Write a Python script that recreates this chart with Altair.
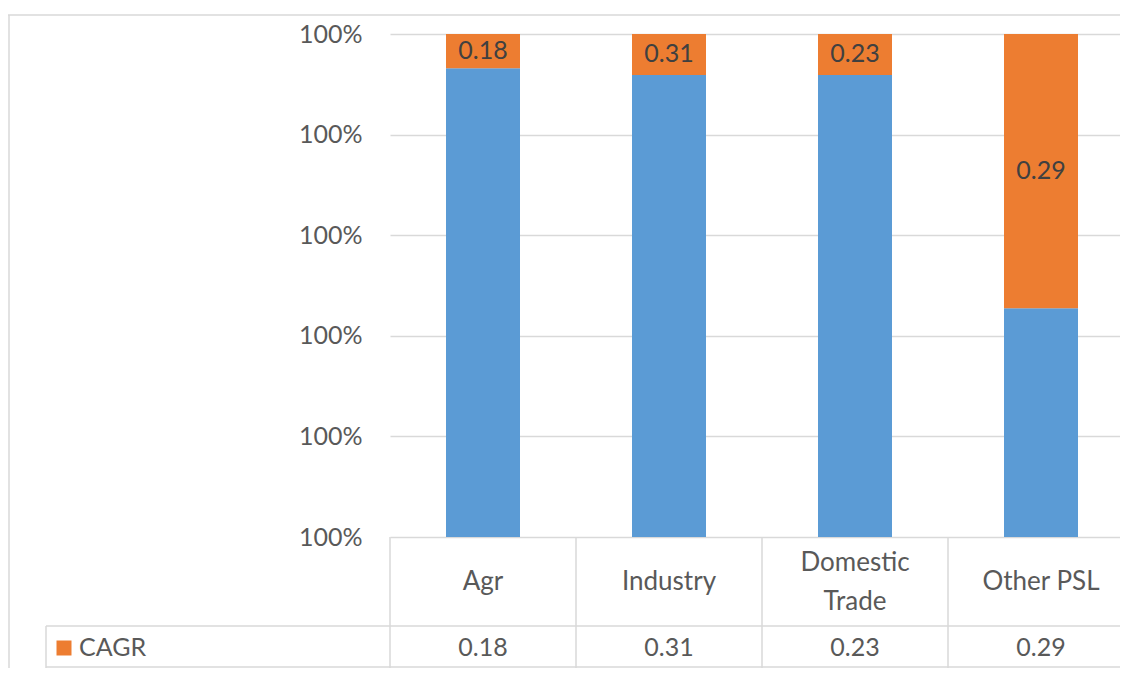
import altair as alt
import pandas as pd

categories = ["Agr", "Industry", "Domestic Trade", "Other PSL"]
cat_labels = ["Agr", "Industry", "Domestic\nTrade", "Other PSL"]
cagr = [0.18, 0.31, 0.23, 0.29]
# stacked shares (axis spans 99.9% .. 100%)
blue_share = [0.999932, 0.9999185, 0.9999185, 0.999455]
orange_share = [0.000068, 0.0000815, 0.0000815, 0.000545]
y_ticks = [0.999, 0.9992, 0.9994, 0.9996, 0.9998, 1.0]

BLUE = "#5B9BD5"
ORANGE = "#ED7D31"
GRID = "#D9D9D9"
TXT = "#595959"
FONT = "Lato"
FS = 25

rows = []
for c, b, o in zip(categories, blue_share, orange_share):
    rows.append({"cat": c, "series": "Share", "value": b, "ord": 0})
    rows.append({"cat": c, "series": "CAGR", "value": o, "ord": 1})
bars_df = pd.DataFrame(rows)

lab_df = pd.DataFrame({
    "cat": categories,
    "mid": [b + o / 2 for b, o in zip(blue_share, orange_share)],
    "cagr": cagr,
    "label": cat_labels,
    "lines": [lab.count("\n") + 1 for lab in cat_labels],
})

xscale = alt.Scale(domain=categories, range=[0, 744], paddingInner=0, paddingOuter=0)
yscale = alt.Scale(domain=[0.999, 1.0], range=[503, 0], zero=False, nice=False, clamp=True)

bars = alt.Chart(bars_df).mark_bar(width=alt.RelativeBandSize(74 / 186)).encode(
    x=alt.X("cat:N", scale=xscale, axis=None, sort=categories),
    y=alt.Y("value:Q", stack="zero", scale=yscale,
            axis=alt.Axis(values=y_ticks, format=".0%", title=None, grid=True,
                          gridColor=GRID, gridWidth=1.5, domain=False, ticks=False,
                          labelFont=FONT, labelFontSize=FS, labelColor=TXT,
                          labelPadding=28)),
    color=alt.Color("series:N", scale=alt.Scale(domain=["Share", "CAGR"], range=[BLUE, ORANGE]),
                    legend=None),
    order=alt.Order("ord:Q"),
)

bar_labels = alt.Chart(lab_df).mark_text(font=FONT, fontSize=FS, color="#404040").encode(
    x=alt.X("cat:N", scale=xscale, sort=categories),
    y=alt.Y("mid:Q", scale=yscale),
    text=alt.Text("cagr:Q", format=".2f"),
)

cat_text_1 = alt.Chart(lab_df).transform_filter("datum.lines == 1").mark_text(
    font=FONT, fontSize=26, color=TXT).encode(
    x=alt.X("cat:N", scale=xscale, sort=categories),
    y=alt.value(548),
    text="label:N",
)
cat_text_2 = alt.Chart(lab_df).transform_filter("datum.lines == 2").mark_text(
    font=FONT, fontSize=26, color=TXT, lineBreak="\n", lineHeight=39).encode(
    x=alt.X("cat:N", scale=xscale, sort=categories),
    y=alt.value(529),
    text="label:N",
)

val_text = alt.Chart(lab_df).mark_text(font=FONT, fontSize=FS, color=TXT).encode(
    x=alt.X("cat:N", scale=xscale, sort=categories),
    y=alt.value(614),
    text=alt.Text("cagr:Q", format=".2f"),
)

vlines = alt.Chart(lab_df).mark_rule(color=GRID, strokeWidth=1.5).encode(
    x=alt.X("cat:N", scale=xscale, sort=categories, bandPosition=0),
    y=alt.value(503),
    y2=alt.value(634),
)

one = lab_df.head(1)
hline_mid = alt.Chart(one).mark_rule(color=GRID, strokeWidth=1.5).encode(
    x=alt.value(-344), x2=alt.value(744), y=alt.value(592))
hline_bot = alt.Chart(one).mark_rule(color=GRID, strokeWidth=1.5).encode(
    x=alt.value(-344), x2=alt.value(744), y=alt.value(633))
vline_leg = alt.Chart(one).mark_rule(color=GRID, strokeWidth=1.5).encode(
    x=alt.value(-344), y=alt.value(592), y2=alt.value(634))
border_top = alt.Chart(one).mark_rule(color=GRID, strokeWidth=1.5).encode(
    x=alt.value(-382), x2=alt.value(744), y=alt.value(-19))
border_left = alt.Chart(one).mark_rule(color=GRID, strokeWidth=1.5).encode(
    x=alt.value(-381), y=alt.value(-19), y2=alt.value(640))

legend_sq = alt.Chart(pd.DataFrame({"series": ["CAGR"]})).mark_square(
    size=225, color=ORANGE, opacity=1, filled=True).encode(
    x=alt.value(-326), y=alt.value(614))
legend_txt = alt.Chart(pd.DataFrame({"series": ["CAGR"]})).mark_text(
    font=FONT, fontSize=FS, color=TXT, align="left").encode(
    x=alt.value(-311), y=alt.value(614), text="series:N")

chart = alt.layer(
    bars, bar_labels, vlines, hline_mid, hline_bot, vline_leg, border_top, border_left,
    cat_text_1, cat_text_2, val_text, legend_sq, legend_txt,
).properties(
    width=730, height=634,
    autosize=alt.AutoSizeParams(type="none"),
    padding={"left": 382, "top": 26, "right": 0, "bottom": 0},
).configure_view(stroke=None)

chart.save("out.html", embed_options={"renderer": "svg", "actions": False})
